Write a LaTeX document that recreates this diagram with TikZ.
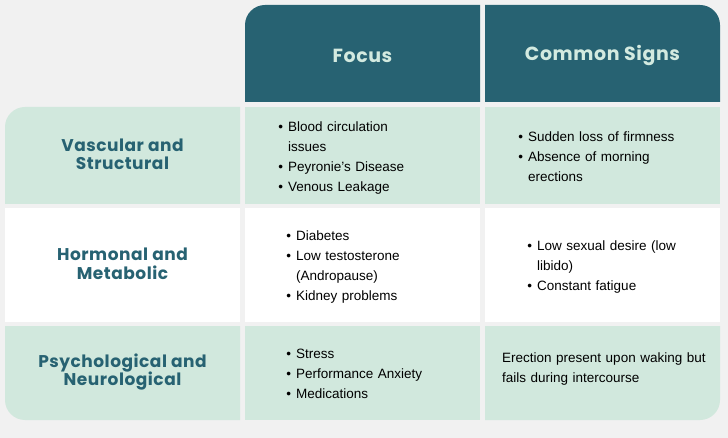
\documentclass[tikz,border=0pt]{standalone}
\usepackage{fontspec}
\setmainfont{Liberation Sans}
\newfontfamily\headfont{Poppins}[LetterSpace=3]
\usepackage{enumitem}
\setlist[itemize]{nosep, leftmargin=11pt, labelsep=5pt, label={\textbullet}}

\definecolor{pagebg}{HTML}{F1F1F1}
\definecolor{headbg}{HTML}{276272}
\definecolor{headtext}{HTML}{D3EAE0}
\definecolor{mint}{HTML}{D1E8DD}
\definecolor{topicteal}{HTML}{276272}

\begin{document}
\begin{tikzpicture}[x=1pt, y=-1pt,
        cell/.style={inner sep=0pt, outer sep=0pt, minimum width=235pt},
        head/.style={text=headtext, font=\headfont\bfseries\fontsize{19}{22}\selectfont},
        topic/.style={align=center, text=topicteal, font=\headfont\bfseries\fontsize{17}{18.5}\selectfont},
        entry/.style={anchor=west, inner sep=0pt, text width=190pt, align=left, font=\fontsize{13.5}{20}\selectfont}]
        \useasboundingbox (0,0) rectangle (728,438);
        \fill[pagebg] (0,0) rectangle (728,438);

        %%%%%%%%%%%%%%%%%%%%%%%%%%%%%%%%%%%%%%%%%%%%
        % Cells
        %%%%%%%%%%%%%%%%%%%%%%%%%%%%%%%%%%%%%%%%%%%%

        % Drawing
        \foreach \c/\x in {1/362.5, 2/602.5}
            \node [cell, minimum height=97pt] (head-\c) at (\x,53.5) {};
        \foreach \r/\y/\h in {1/155.5/97, 2/265/114, 3/373/94}
            \foreach \c/\x in {1/122.5, 2/362.5, 3/602.5}
                \node [cell, minimum height=\h pt] (cell-\r-\c) at (\x,\y) {};

        % Filling, square cells
        \foreach \n/\f in {cell-1-2/mint, cell-1-3/mint, cell-2-1/white,
                           cell-2-2/white, cell-2-3/white, cell-3-2/mint}
            \fill [\f] (\n.north west) rectangle (\n.south east);

        % Filling, cells with one rounded corner
        \foreach \n/\f/\a/\b/\c/\d in {head-1/headbg/south west/north west/north east/south east,
                                       head-2/headbg/north west/north east/south east/south west,
                                       cell-1-1/mint/south west/north west/north east/south east,
                                       cell-3-1/mint/south east/south west/north west/north east,
                                       cell-3-3/mint/north east/south east/south west/north west}
            \fill [\f] (\n.\a) [rounded corners=20pt] -- (\n.\b) [sharp corners]
                -- (\n.\c) -- (\n.\d) -- cycle;

        %%%%%%%%%%%%%%%%%%%%%%%%%%%%%%%%%%%%%%%%%%%%
        % Labeling
        %%%%%%%%%%%%%%%%%%%%%%%%%%%%%%%%%%%%%%%%%%%%

        % Header
        \foreach \l [count=\c] in {Focus, Common Signs}
            \node [head] at ([yshift=-2pt]head-\c) {\l};

        % Topics
        \foreach \l [count=\r] in {Vascular and\\Structural, Hormonal and\\Metabolic,
                                   Psychological and\\Neurological}
            \node [topic] at ([yshift=1pt]cell-\r-1) {\l};

        % Entries
        \node [entry] (focus-1) at (277,153) {\begin{itemize}
            \item Blood circulation\\issues
            \item Peyronie's Disease
            \item Venous Leakage
        \end{itemize}};
        \node [entry] (signs-1) at (517,152) {\begin{itemize}
            \item Sudden loss of firmness
            \item Absence of morning\\erections
        \end{itemize}};
        \node [entry] (focus-2) at (285,262) {\begin{itemize}
            \item Diabetes
            \item Low testosterone\\(Andropause)
            \item Kidney problems
        \end{itemize}};
        \node [entry] (signs-2) at (526,262) {\begin{itemize}
            \item Low sexual desire (low\\libido)
            \item Constant fatigue
        \end{itemize}};
        \node [entry] (focus-3) at (285,369) {\begin{itemize}
            \item Stress
            \item Performance Anxiety
            \item Medications
        \end{itemize}};
        \node [entry, text width=215pt] (signs-3) at (502,369)
            {Erection present upon waking but\\fails during intercourse};
    \end{tikzpicture}
\end{document}
